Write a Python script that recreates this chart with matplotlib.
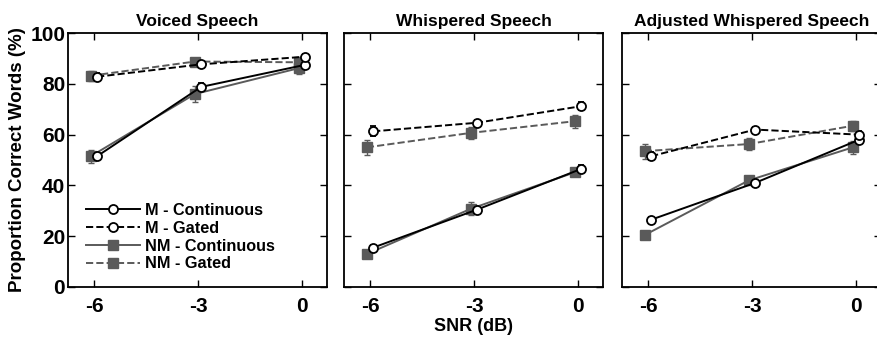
import numpy as np
import matplotlib.pyplot as plt

# SNR conditions
snr = [-6, -3, 0]
titles = ['Voiced Speech', 'Whispered Speech', 'Adjusted Whispered Speech']

# proportion correct (%) per panel: voiced, whispered, adjusted whispered
m_cont = [[51.5, 78.8, 87.5], [15.5, 30.5, 46.5], [26.5, 41.0, 58.0]]
m_gated = [[82.8, 87.7, 90.7], [61.3, 64.7, 71.2], [51.5, 62.0, 60.0]]
nm_cont = [[51.5, 76.0, 86.2], [13.0, 30.8, 45.2], [20.5, 42.0, 55.0]]
nm_gated = [[83.2, 88.8, 88.5], [55.0, 60.7, 65.3], [53.5, 56.3, 63.5]]

# standard errors
m_cont_err = [[1.5, 1.5, 1.5], [1.0, 1.5, 1.5], [1.0, 1.0, 1.5]]
m_gated_err = [[1.5, 1.0, 1.0], [2.0, 1.0, 1.5], [1.5, 1.0, 1.5]]
nm_cont_err = [[2.5, 3.0, 2.5], [1.0, 2.5, 1.5], [1.0, 1.5, 2.5]]
nm_gated_err = [[2.0, 1.5, 2.0], [3.0, 2.5, 2.5], [3.0, 2.5, 2.0]]

labels = ['M - Continuous', 'M - Gated', 'NM - Continuous', 'NM - Gated']

plt.rcParams['font.family'] = ['Liberation Sans', 'DejaVu Sans']
plt.rcParams['font.weight'] = 'bold'

fig = plt.figure(figsize=(8.78, 3.39), dpi=100)
lefts = [0.0774, 0.3918, 0.7084]
gray = '#5a5a5a'
dx = 0.09

for i in range(3):
    ax = fig.add_axes([lefts[i], 0.1534, 0.295, 0.749])
    xm = np.array(snr) + dx
    xn = np.array(snr) - dx
    # NM first so M draws on top
    ax.errorbar(xn, nm_cont[i], yerr=nm_cont_err[i], color=gray, ls='-', lw=1.4,
                marker='s', ms=6.5, mfc=gray, mec=gray, capsize=2, elinewidth=1,
                label=labels[2])
    ax.errorbar(xn, nm_gated[i], yerr=nm_gated_err[i], color=gray, ls='--', lw=1.4,
                marker='s', ms=6.5, mfc=gray, mec=gray, capsize=2, elinewidth=1,
                label=labels[3])
    ax.errorbar(xm, m_cont[i], yerr=m_cont_err[i], color='black', ls='-', lw=1.4,
                marker='o', ms=6.5, mfc='white', mec='black', mew=1.3, capsize=2,
                elinewidth=1, label=labels[0])
    ax.errorbar(xm, m_gated[i], yerr=m_gated_err[i], color='black', ls='--', lw=1.4,
                marker='o', ms=6.5, mfc='white', mec='black', mew=1.3, capsize=2,
                elinewidth=1, label=labels[1])

    ax.set_xlim(-6.75, 0.72)
    ax.set_ylim(0, 100)
    ax.set_xticks(snr)
    ax.set_xticklabels([str(s) for s in snr])
    ax.set_yticks([0, 20, 40, 60, 80, 100])
    ax.tick_params(direction='in', top=True, right=True, length=5, width=1,
                   labelsize=15)
    ax.tick_params(axis='x', pad=7)
    ax.tick_params(axis='y', pad=2)
    for lab in ax.get_xticklabels() + ax.get_yticklabels():
        lab.set_fontweight('bold')
    if i > 0:
        ax.set_yticklabels([])
    for sp in ax.spines.values():
        sp.set_linewidth(1.3)
    ax.set_title(titles[i], fontsize=12.5, fontweight='bold', pad=5)

    if i == 0:
        ax.set_ylabel('Proportion Correct Words (%)', fontsize=13.5,
                      fontweight='bold', labelpad=3)
        h, l = ax.get_legend_handles_labels()
        order = [l.index(n) for n in labels]
        ax.legend([h[k][0] for k in order], labels, loc='lower left',
                  bbox_to_anchor=(0.02, 0.01), frameon=False,
                  handlelength=3.3, handletextpad=0.3, labelspacing=0.17,
                  borderpad=0.3, prop={'weight': 'bold', 'size': 11.7})
    if i == 1:
        ax.set_xlabel('SNR (dB)', fontsize=13, fontweight='bold', labelpad=2)

fig.savefig('out.png', dpi=100)
